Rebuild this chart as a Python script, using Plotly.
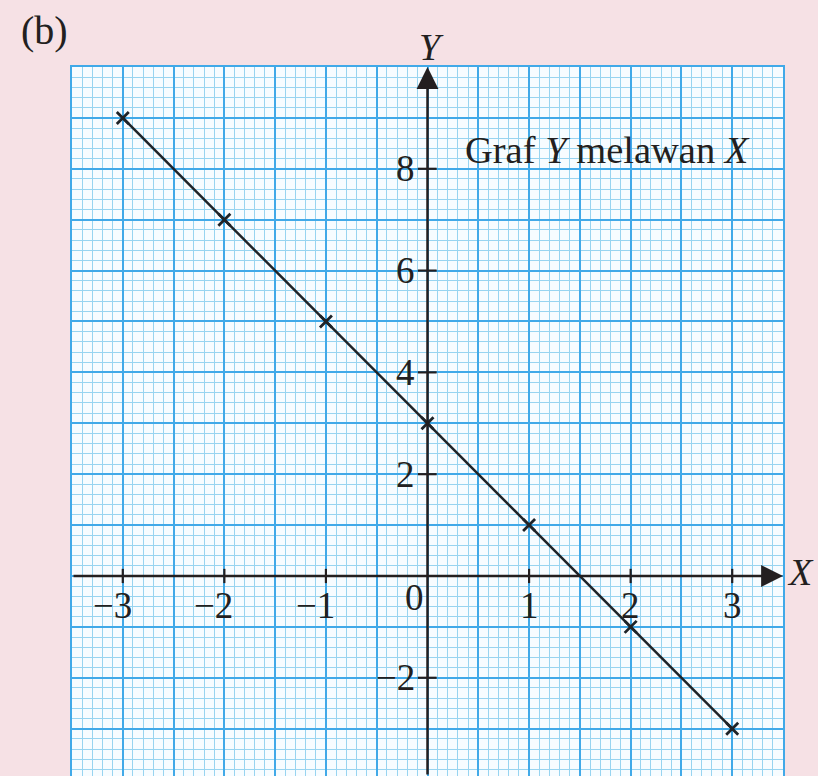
import plotly.graph_objects as go

# Data: Y = 3 - 2X, plotted points
X_VALUES = [-3, -2, -1, 0, 1, 2, 3]
Y_VALUES = [9, 7, 5, 3, 1, -1, -3]

# Axis tick values and their labels
X_TICKS = [-3, -2, -1, 1, 2, 3]
X_TICK_LABELS = ["\u22123", "\u22122", "\u22121", "1", "2", "3"]
Y_TICKS = [-2, 2, 4, 6, 8]
Y_TICK_LABELS = ["\u22122", "2", "4", "6", "8"]

X_RANGE = [-3.5, 3.5]
Y_RANGE = [-3.93, 10]

FONT = "Liberation Serif, Times New Roman, serif"
INK = "#231f20"
PINK = "#f6e1e5"
MAJOR = "#41a9e8"
MINOR = "#98d4f0"

fig = go.Figure()

fig.add_trace(go.Scatter(
    x=X_VALUES, y=Y_VALUES,
    mode="lines+markers",
    line=dict(color="#1e2328", width=2.5),
    marker=dict(symbol="x-thin", size=12, line=dict(color="#1e2328", width=2.8)),
    showlegend=False, hoverinfo="skip",
))

shapes = []
# small tick marks on the X axis
for xt in X_TICKS:
    shapes.append(dict(type="line", xref="x", yref="y", x0=xt, x1=xt, y0=-0.14, y1=0.14,
                       line=dict(color=INK, width=2.2)))
# small tick marks on the Y axis
for yt in Y_TICKS:
    shapes.append(dict(type="line", xref="x", yref="y", x0=-0.095, x1=0.09, y0=yt, y1=yt,
                       line=dict(color=INK, width=2.2)))

annotations = []
# axes with arrowheads
annotations.append(dict(x=X_RANGE[1], y=0, ax=X_RANGE[0], ay=0, xref="x", yref="y",
                        axref="x", ayref="y", text="", showarrow=True, arrowhead=2,
                        arrowsize=1.75, arrowwidth=2.5, arrowcolor=INK))
annotations.append(dict(x=0, y=Y_RANGE[1], ax=0, ay=Y_RANGE[0], xref="x", yref="y",
                        axref="x", ayref="y", text="", showarrow=True, arrowhead=2,
                        arrowsize=1.75, arrowwidth=2.5, arrowcolor=INK))

tick_font = dict(family=FONT, size=37, color=INK)
for xt, lab in zip(X_TICKS, X_TICK_LABELS):
    if xt < 0:
        annotations.append(dict(x=xt, y=0, xref="x", yref="y", text=lab, showarrow=False,
                                xanchor="right", yanchor="middle", xshift=11, yshift=-30,
                                font=tick_font))
    else:
        annotations.append(dict(x=xt, y=0, xref="x", yref="y", text=lab, showarrow=False,
                                xanchor="center", yanchor="middle", yshift=-30,
                                font=tick_font))
annotations.append(dict(x=0, y=0, xref="x", yref="y", text="0", showarrow=False,
                        xanchor="center", yanchor="middle", xshift=-13, yshift=-22,
                        font=tick_font))
for yt, lab in zip(Y_TICKS, Y_TICK_LABELS):
    annotations.append(dict(x=0, y=yt, xref="x", yref="y", text=lab, showarrow=False,
                            xanchor="right", yanchor="middle", xshift=-11,
                            font=tick_font))

# axis names
annotations.append(dict(x=0, y=1.028, xref="x", yref="paper", text="<i>Y</i>",
                        showarrow=False, xanchor="center", yanchor="middle", xshift=4,
                        font=dict(family=FONT, size=38, color=INK)))
annotations.append(dict(x=1.025, y=0, xref="paper", yref="y", text="<i>X</i>",
                        showarrow=False, xanchor="center", yanchor="middle", yshift=4,
                        font=dict(family=FONT, size=38, color=INK)))

# caption inside the grid
annotations.append(dict(x=0.35, y=8.36, xref="x", yref="y",
                        text="Graf <i>Y</i> melawan <i>X</i>", showarrow=False,
                        xanchor="left", yanchor="middle",
                        font=dict(family=FONT, size=38.5, color=INK)))

# part label
annotations.append(dict(x=-0.075, y=1.052, xref="paper", yref="paper", text="(b)",
                        showarrow=False, xanchor="left", yanchor="middle",
                        font=dict(family=FONT, size=40, color=INK)))

fig.update_layout(
    width=818, height=776,
    margin=dict(l=72, r=35, t=67, b=0, pad=0),
    paper_bgcolor=PINK,
    plot_bgcolor="#f7fcff",
    shapes=shapes,
    annotations=annotations,
    xaxis=dict(range=X_RANGE, dtick=0.5, tick0=0, showgrid=True, gridcolor=MAJOR,
               gridwidth=2, zeroline=False, showticklabels=False, ticks="",
               showline=True, mirror=True, linecolor=MAJOR, linewidth=2,
               minor=dict(dtick=0.1, tick0=0, showgrid=True, gridcolor=MINOR, gridwidth=1),
               fixedrange=True),
    yaxis=dict(range=Y_RANGE, dtick=1, tick0=0, showgrid=True, gridcolor=MAJOR,
               gridwidth=2, zeroline=False, showticklabels=False, ticks="",
               showline=True, mirror=True, linecolor=MAJOR, linewidth=2,
               minor=dict(dtick=0.2, tick0=0, showgrid=True, gridcolor=MINOR, gridwidth=1),
               fixedrange=True),
)

fig.write_html("out.html")
